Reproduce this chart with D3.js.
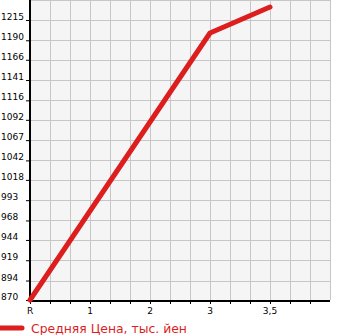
<!DOCTYPE html>
<html>
<head>
<meta charset="utf-8">
<script src="https://cdn.jsdelivr.net/npm/d3@7"></script>
<style>
  body { margin: 0; background: #fff; }
  svg { display: block; }
</style>
</head>
<body>
<svg id="chart" width="345" height="335"></svg>
<script>
// tick labels on the x axis, one per major position
const xTickLabels = ['R', '1', '2', '3', '3,5'];
// y tick labels as printed
const yTickLabels = [870, 894, 919, 944, 968, 993, 1018, 1042, 1067, 1092, 1116, 1141, 1166, 1190, 1215];
// series: points of the average price line
const pointLabels = ['R', '3', '3,5'];
const pointValues = [870, 1199, 1231];
const seriesName = 'Средняя Цена, тыс. йен';

const RED = '#dc1e1e';

const svg = d3.select('#chart');
const margin = { top: 0, right: 15, bottom: 35, left: 30 };
const width = 345 - margin.left - margin.right;
const height = 335 - margin.top - margin.bottom;

const yStep = (yTickLabels[yTickLabels.length - 1] - yTickLabels[0]) / (yTickLabels.length - 1);

const xScale = d3.scaleLinear().domain([0, xTickLabels.length]).range([0, width]);
const yScale = d3.scaleLinear()
  .domain([yTickLabels[0], yTickLabels[0] + yStep * (yTickLabels.length)])
  .range([height, 0]);

const g = svg.append('g').attr('transform', `translate(${margin.left},${margin.top})`);

// plot background
g.append('rect')
  .attr('x', 0).attr('y', 0)
  .attr('width', width).attr('height', height)
  .attr('fill', '#f5f5f5');

// grid
const minorX = d3.range(1, xTickLabels.length * 3 + 1).map(i => i / 3);
g.selectAll('.vgrid')
  .data(minorX)
  .enter()
  .append('line')
  .attr('x1', d => Math.round(xScale(d)) + 0.5)
  .attr('x2', d => Math.round(xScale(d)) + 0.5)
  .attr('y1', 0)
  .attr('y2', height)
  .attr('stroke', '#c6c6c6')
  .attr('stroke-width', 1);

const yGridVals = yTickLabels.slice(1).concat([yTickLabels[0] + yStep * yTickLabels.length]);
g.selectAll('.hgrid')
  .data(yGridVals)
  .enter()
  .append('line')
  .attr('x1', 0)
  .attr('x2', width)
  .attr('y1', d => Math.round(yScale(d)) + 0.5)
  .attr('y2', d => Math.round(yScale(d)) + 0.5)
  .attr('stroke', '#c6c6c6')
  .attr('stroke-width', 1);

// axes
const xAxis = d3.axisBottom(xScale)
  .tickValues(minorX.slice(0, -1).concat([0]))
  .tickSize(4)
  .tickFormat('');
const xAxisG = g.append('g')
  .attr('transform', `translate(0,${height})`)
  .call(xAxis);
xAxisG.select('.domain').remove();
xAxisG.selectAll('line').attr('stroke', '#000').attr('stroke-width', 1);

g.append('line')
  .attr('x1', 0).attr('x2', width)
  .attr('y1', height + 1).attr('y2', height + 1)
  .attr('stroke', '#000').attr('stroke-width', 2);

g.selectAll('.xlabel')
  .data(xTickLabels)
  .enter()
  .append('text')
  .attr('x', (d, i) => xScale(i))
  .attr('y', height + 14)
  .attr('text-anchor', 'middle')
  .style('font-family', 'DejaVu Sans')
  .style('font-size', '9px')
  .attr('fill', '#000')
  .text(d => d);

const yAxis = d3.axisLeft(yScale)
  .tickValues(yTickLabels)
  .tickSize(4)
  .tickFormat('');
const yAxisG = g.append('g').call(yAxis);
yAxisG.select('.domain').remove();
yAxisG.selectAll('line').attr('stroke', '#000');

g.append('line')
  .attr('x1', 0).attr('x2', 0)
  .attr('y1', 0).attr('y2', height + 2)
  .attr('stroke', '#000').attr('stroke-width', 2);

svg.selectAll('.ylabel')
  .data(yTickLabels)
  .enter()
  .append('text')
  .attr('x', 1)
  .attr('y', d => margin.top + yScale(d))
  .style('font-family', 'DejaVu Sans')
  .style('font-size', '9px')
  .attr('fill', '#000')
  .text(d => d);

// series line
const pts = pointLabels.map((l, i) => ({ x: xTickLabels.indexOf(l), y: pointValues[i] }));
const line = d3.line().x(d => xScale(d.x)).y(d => yScale(d.y));
g.append('path')
  .datum(pts)
  .attr('fill', 'none')
  .attr('stroke', RED)
  .attr('stroke-width', 5)
  .attr('stroke-linecap', 'round')
  .attr('stroke-linejoin', 'round')
  .attr('d', line);

// legend
svg.append('line')
  .attr('x1', 0).attr('x2', 22)
  .attr('y1', 328).attr('y2', 328)
  .attr('stroke', RED)
  .attr('stroke-width', 5)
  .attr('stroke-linecap', 'round');
svg.append('text')
  .attr('x', 31)
  .attr('y', 333)
  .style('font-family', 'DejaVu Sans')
  .style('font-size', '12.4px')
  .attr('fill', RED)
  .text(seriesName);
</script>
</body>
</html>
